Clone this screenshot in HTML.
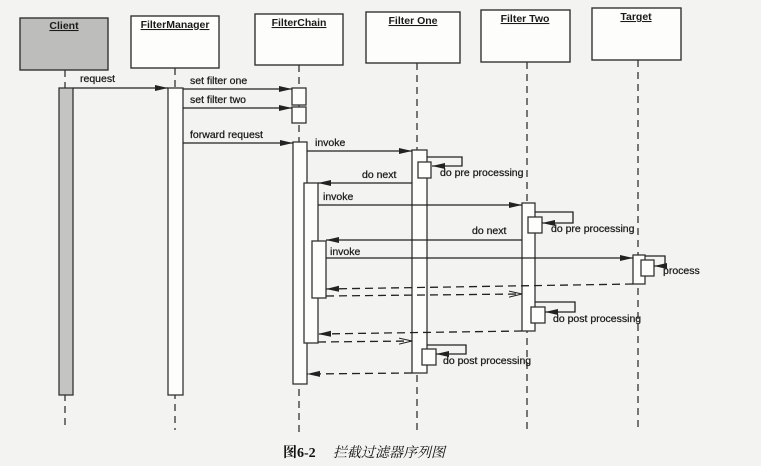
<!DOCTYPE html>
<html><head><meta charset="utf-8"><style>
html,body{margin:0;padding:0;background:#f3f3f1;}
svg{display:block}
text{font-family:"Liberation Sans",sans-serif;font-size:10.5px;fill:#1a1a1a;}
.l{stroke:#1a1a1a;stroke-width:0.25px;}
</style></head><body>
<svg width="761" height="466" viewBox="0 0 761 466" xmlns="http://www.w3.org/2000/svg">
<defs>
<marker id="a" markerWidth="14" markerHeight="8" refX="13" refY="4" orient="auto" markerUnits="userSpaceOnUse"><path d="M0,1 L13,4 L0,7 Z" fill="#222"/></marker>
<marker id="o" markerWidth="14" markerHeight="8" refX="13" refY="4" orient="auto" markerUnits="userSpaceOnUse"><path d="M0,1 L13,4 L0,7" fill="none" stroke="#222"/></marker>
</defs>
<rect width="761" height="466" fill="#f3f3f1"/>
<g stroke="#333" stroke-width="1.4" fill="#fdfdfc">
<rect x="20" y="18" width="88" height="52" fill="#bdbdbb"/>
<rect x="131" y="16" width="88" height="52"/>
<rect x="255" y="14" width="88" height="51"/>
<rect x="366" y="12" width="94" height="51"/>
<rect x="481" y="10" width="89" height="52"/>
<rect x="592" y="8" width="89" height="52"/>
</g>
<g font-weight="bold" font-size="10.5" text-anchor="middle">
<text x="64" y="29" text-decoration="underline">Client</text>
<text x="175" y="28" text-decoration="underline">FilterManager</text>
<text x="299" y="26" text-decoration="underline">FilterChain</text>
<text x="413" y="24" text-decoration="underline">Filter One</text>
<text x="525" y="22" text-decoration="underline">Filter Two</text>
<text x="636" y="20" text-decoration="underline">Target</text>
</g>
<g stroke="#333" stroke-width="1.3" stroke-dasharray="7,5">
<line x1="65" y1="70" x2="65" y2="430"/>
<line x1="175" y1="68" x2="175" y2="430"/>
<line x1="299" y1="65" x2="299" y2="432"/>
<line x1="417" y1="63" x2="417" y2="432"/>
<line x1="527" y1="62" x2="527" y2="430"/>
<line x1="638" y1="60" x2="638" y2="428"/>
</g>
<g stroke="#333" stroke-width="1.3" fill="#fdfdfc">
<rect x="59" y="88" width="14" height="307" fill="#c4c4c2"/>
<rect x="168" y="88" width="15" height="307"/>
<rect x="292" y="88" width="14" height="17"/>
<rect x="292" y="107" width="14" height="16"/>
<rect x="293" y="142" width="14" height="242"/>
<rect x="304" y="183" width="14" height="160"/>
<rect x="312" y="241" width="14" height="57"/>
<rect x="412" y="150" width="15" height="223"/>
<rect x="522" y="203" width="13" height="128"/>
<rect x="633" y="255" width="12" height="29"/>
</g>
<g stroke="#333" stroke-width="1.3" fill="#fdfdfc">
<rect x="418" y="162" width="13" height="16"/>
<rect x="528" y="217" width="14" height="16"/>
<rect x="641" y="260" width="13" height="16"/>
<rect x="531" y="307" width="14" height="16"/>
<rect x="422" y="349" width="14" height="16"/>
</g>
<g stroke="#222" stroke-width="1.3" fill="none">
<line x1="73" y1="88" x2="168" y2="88" marker-end="url(#a)"/>
<line x1="183" y1="89" x2="292" y2="89" marker-end="url(#a)"/>
<line x1="183" y1="108" x2="292" y2="108" marker-end="url(#a)"/>
<line x1="183" y1="143" x2="293" y2="143" marker-end="url(#a)"/>
<line x1="307" y1="151" x2="412" y2="151" marker-end="url(#a)"/>
<line x1="412" y1="183" x2="318" y2="183" marker-end="url(#a)"/>
<line x1="318" y1="205" x2="522" y2="205" marker-end="url(#a)"/>
<line x1="522" y1="240" x2="326" y2="240" marker-end="url(#a)"/>
<line x1="326" y1="258" x2="633" y2="258" marker-end="url(#a)"/>
<polyline points="427,157 462,157 462,166 432,166" marker-end="url(#a)"/>
<polyline points="535,212 573,212 573,223 542,223" marker-end="url(#a)"/>
<polyline points="645,256 665,256 665,266 654,266" marker-end="url(#a)"/>
<polyline points="535,302 575,302 575,312 545,312" marker-end="url(#a)"/>
<polyline points="427,345 466,345 466,354 436,354" marker-end="url(#a)"/>
</g>
<g stroke="#222" stroke-width="1.3" fill="none" stroke-dasharray="8,5">
<line x1="633" y1="284" x2="326" y2="289" marker-end="url(#a)"/>
<line x1="326" y1="296" x2="522" y2="294" marker-end="url(#o)"/>
<line x1="522" y1="331" x2="318" y2="334" marker-end="url(#a)"/>
<line x1="318" y1="342" x2="412" y2="341" marker-end="url(#o)"/>
<line x1="412" y1="373" x2="307" y2="374" marker-end="url(#a)"/>
</g>
<g class="l">
<text x="80" y="82">request</text>
<text x="190" y="84">set filter one</text>
<text x="190" y="103">set filter two</text>
<text x="190" y="138">forward request</text>
<text x="315" y="146">invoke</text>
<text x="362" y="178">do next</text>
<text x="323" y="200">invoke</text>
<text x="472" y="234">do next</text>
<text x="330" y="255">invoke</text>
<text x="440" y="176">do pre processing</text>
<text x="551" y="232">do pre processing</text>
<text x="663" y="274">process</text>
<text x="553" y="322">do post processing</text>
<text x="443" y="364">do post processing</text>
</g>
<text x="283" y="457" style="font-family:'Liberation Serif','Noto Serif CJK SC',serif;font-size:14px;font-weight:bold;fill:#111">图6-2</text>
<text x="333" y="457" style="font-family:'Liberation Serif','Noto Serif CJK SC',serif;font-size:14px;font-style:italic;fill:#111">拦截过滤器序列图</text>
</svg>
</body></html>
